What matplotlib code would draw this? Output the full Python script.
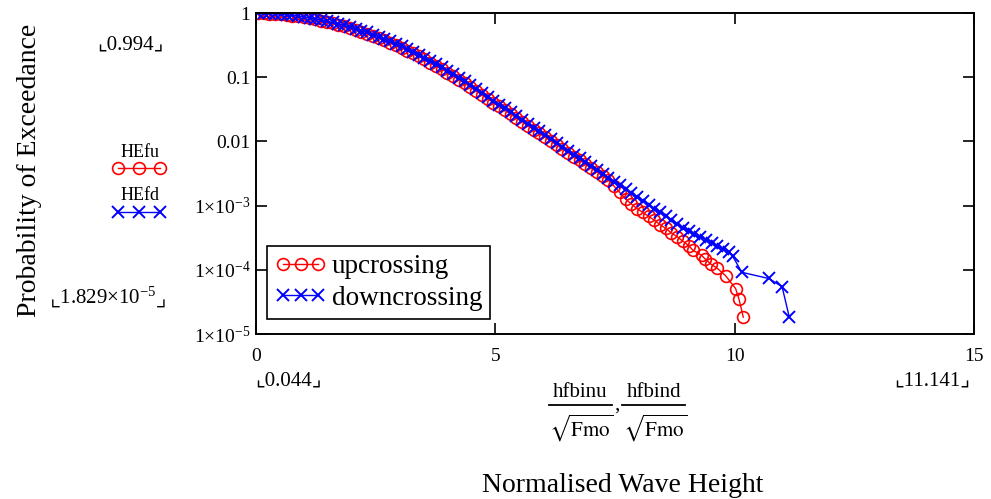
import numpy as np
import matplotlib
matplotlib.use("Agg")
from matplotlib import pyplot as plt
from matplotlib.lines import Line2D

plt.rcParams['font.family'] = ['Liberation Serif', 'DejaVu Sans']
plt.rcParams['mathtext.fontset'] = 'stix'

# normalised wave height bins (shared part), then the sparse tails
h_bins = [0.044, 0.16, 0.28, 0.40, 0.52, 0.64, 0.76, 0.88, 1.00, 1.12,
          1.24, 1.36, 1.48, 1.60, 1.72, 1.84, 1.96, 2.08, 2.20, 2.32,
          2.44, 2.56, 2.68, 2.80, 2.92, 3.04, 3.16, 3.28, 3.40, 3.52,
          3.64, 3.76, 3.88, 4.00, 4.12, 4.24, 4.36, 4.48, 4.60, 4.72,
          4.84, 4.96, 5.08, 5.20, 5.32, 5.44, 5.56, 5.68, 5.80, 5.92,
          6.04, 6.16, 6.28, 6.40, 6.52, 6.64, 6.76, 6.88, 7.00, 7.12,
          7.24, 7.36, 7.48, 7.60, 7.72, 7.84, 7.96, 8.08, 8.20, 8.32,
          8.44, 8.56, 8.68, 8.80, 8.92]
hu_tail = [9.04, 9.13, 9.31, 9.38, 9.50, 9.64, 9.81, 10.02, 10.09, 10.18]
hd_tail = [9.04, 9.16, 9.28, 9.40, 9.52, 9.64, 9.76, 9.88, 9.96, 10.15,
           10.71, 10.99, 11.141]

# probability of exceedance, upcrossing
HEfu = [0.994, 0.989, 0.980, 0.968, 0.952, 0.933, 0.911, 0.886, 0.858, 0.827,
        0.795, 0.761, 0.727, 0.692, 0.656, 0.620, 0.584, 0.547, 0.511, 0.476,
        0.441, 0.407, 0.375, 0.344, 0.314, 0.286, 0.259, 0.234, 0.211, 0.189,
        0.169, 0.151, 0.134, 0.118, 0.104, 0.0916, 0.0803, 0.0700, 0.0608, 0.0530,
        0.0461, 0.0402, 0.0350, 0.0305, 0.0266, 0.0231, 0.0202, 0.0175, 0.0153, 0.0133,
        0.0116, 0.0101, 0.00880, 0.00766, 0.00667, 0.00581, 0.00507, 0.00441, 0.00384, 0.00335,
        0.00291, 0.00248, 0.00201, 0.00160, 0.00127, 0.00106, 9.00e-4, 7.83e-4, 6.82e-4, 5.94e-4,
        5.06e-4, 4.41e-4, 3.75e-4, 3.27e-4, 2.78e-4,
        2.38e-4, 2.01e-4, 1.68e-4, 1.48e-4, 1.23e-4, 1.05e-4, 8.1e-5, 5.1e-5, 3.5e-5, 1.829e-5]

# probability of exceedance, downcrossing
HEfd = [0.994, 0.991, 0.984, 0.974, 0.960, 0.943, 0.923, 0.900, 0.874, 0.846,
        0.815, 0.783, 0.749, 0.715, 0.679, 0.643, 0.606, 0.569, 0.533, 0.497,
        0.461, 0.427, 0.394, 0.362, 0.331, 0.302, 0.274, 0.248, 0.224, 0.201,
        0.180, 0.161, 0.143, 0.126, 0.111, 0.0979, 0.0858, 0.0748, 0.0652, 0.0568,
        0.0494, 0.0431, 0.0375, 0.0327, 0.0285, 0.0248, 0.0216, 0.0188, 0.0164, 0.0143,
        0.0124, 0.0108, 0.00943, 0.00821, 0.00715, 0.00623, 0.00543, 0.00473, 0.00412, 0.00359,
        0.00312, 0.00272, 0.00237, 0.00206, 0.00180, 0.00157, 0.00136, 0.00119, 0.00103, 9.00e-4,
        7.84e-4, 6.83e-4, 5.95e-4, 5.18e-4, 4.51e-4,
        3.98e-4, 3.55e-4, 3.24e-4, 2.95e-4, 2.63e-4, 2.34e-4, 2.09e-4, 1.86e-4, 1.62e-4, 9.14e-5,
        7.32e-5, 5.49e-5, 1.829e-5]

hu = h_bins + hu_tail
hd = h_bins + hd_tail

y_ticks = [1e-5, 1e-4, 1e-3, 0.01, 0.1, 1]
y_labels = [r'$\mathregular{1{\times}10^{-5}}$', r'$\mathregular{1{\times}10^{-4}}$',
            r'$\mathregular{1{\times}10^{-3}}$', '0.01', '0.1', '1']
x_ticks = [0, 5, 10, 15]

W, H = 991, 499
def fx(px):
    return px / W
def fy(py):
    return 1 - py / H

fig = plt.figure(figsize=(9.91, 4.99), dpi=100)
ax = fig.add_axes([256/W, 165/H, 718/W, 321/H])

ax.plot(hu, HEfu, color='red', lw=1.0, marker='o', ms=8.5, mfc='none',
        mec='red', mew=1.2, label='upcrossing')
ax.plot(hd, HEfd, color='blue', lw=1.0, marker='x', ms=8.5, mew=1.4,
        label='downcrossing')

ax.set_yscale('log')
ax.set_xlim(0, 15)
ax.set_ylim(1e-5, 1)
ax.set_xticks(x_ticks)
ax.set_xticklabels([str(t) for t in x_ticks])
ax.set_yticks(y_ticks)
ax.set_yticklabels(y_labels)
ax.minorticks_off()
ax.tick_params(direction='in', length=8, width=1.2, labelsize=14,
               top=True, right=True, pad=4)
ax.tick_params(axis='x', pad=10)
for s in ax.spines.values():
    s.set_linewidth(1.4)

leg = ax.legend(loc='upper left', bbox_to_anchor=(0.015, 0.274), borderaxespad=0,
                numpoints=3, fontsize=19.5, handlelength=1.9, handletextpad=0.2,
                borderpad=0.3, labelspacing=0.25, fancybox=False, framealpha=1)
leg.get_frame().set_edgecolor('black')
leg.get_frame().set_linewidth(1.2)

# left side annotations (Mathcad style)
fig.text(fx(30), fy(170), 'Probability of Exceedance', rotation=90,
         ha='center', va='center', fontsize=20)
fig.text(fx(164), fy(45), '\u231e0.994\u231f', ha='right', va='center', fontsize=15)
fig.text(fx(166), fy(297), r'$\mathregular{\llcorner 1.829{\times}10^{-5}\lrcorner}$',
         ha='right', va='center', fontsize=15)
fig.text(fx(160), fy(152), 'HEfu', ha='right', va='center', fontsize=13)
fig.text(fx(160), fy(196), 'HEfd', ha='right', va='center', fontsize=13)
fig.add_artist(Line2D([fx(118), fx(139), fx(160)], [fy(168)] * 3, color='red', lw=1.0,
                      marker='o', ms=8.5, mfc='none', mec='red', mew=1.2))
fig.add_artist(Line2D([fx(118), fx(139), fx(160)], [fy(212)] * 3, color='blue', lw=1.0,
                      marker='x', ms=8.5, mew=1.4))

# bottom annotations
fig.text(fx(255), fy(381), '\u231e0.044\u231f', ha='left', va='center', fontsize=15)
fig.text(fx(970), fy(381), '\u231e11.141\u231f', ha='right', va='center', fontsize=15)

# x-axis expression, built as two stacked fractions
for cx, x0, x1, num in [(580, 549, 612, 'hfbinu'), (654, 622, 685, 'hfbind')]:
    fig.text(fx(cx), fy(397), num, ha='center', va='baseline', fontsize=15)
    fig.add_artist(Line2D([fx(x0), fx(x1)], [fy(405)] * 2, color='black', lw=1.3))
    fig.text(fx(cx + 1), fy(437), r'$\sqrt{\mathrm{Fmo}}$', ha='center', va='baseline',
             fontsize=15)
fig.text(fx(617), fy(410), ',', ha='center', va='baseline', fontsize=15)

fig.text(fx(623), fy(486), 'Normalised Wave Height', ha='center', va='center',
         fontsize=20)

fig.savefig('out.png', dpi=100)
